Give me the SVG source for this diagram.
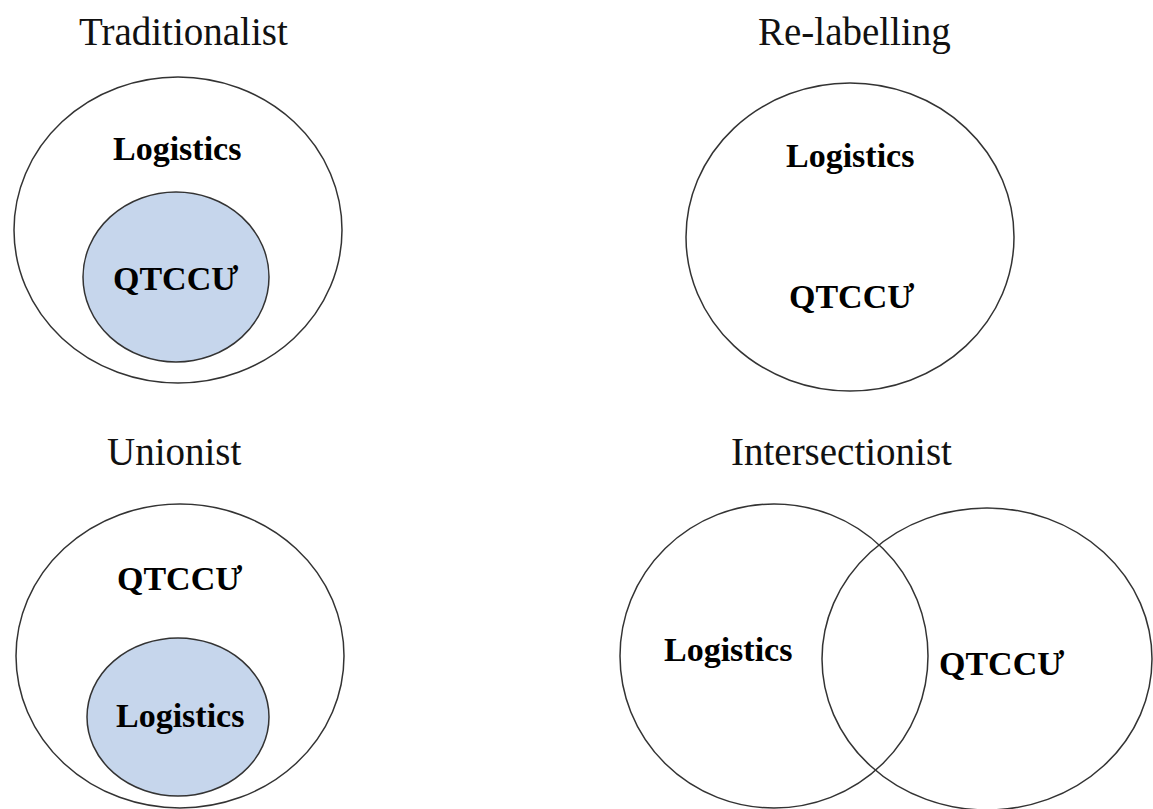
<svg xmlns="http://www.w3.org/2000/svg" width="1153" height="809" viewBox="0 0 1153 809">
<style>
.title{font-family:"Liberation Serif","Times New Roman",serif;font-size:39px;fill:#111}
.lbl{font-family:"Liberation Serif","Times New Roman",serif;font-size:34px;font-weight:bold;fill:#000}
.outer{fill:none;stroke:#333;stroke-width:1.5}
.inner{fill:#c6d6ec;stroke:#333;stroke-width:1.5}
</style>
<rect width="1153" height="809" fill="#fff"/>
<g id="traditionalist">
<text class="title" x="79" y="45">Traditionalist</text>
<ellipse class="outer" cx="178" cy="230" rx="164" ry="153"/>
<ellipse class="inner" cx="176" cy="277" rx="93" ry="85"/>
<text class="lbl" x="113" y="160">Logistics</text>
<text class="lbl" x="113" y="290">QTCCƯ</text>
</g>
<g id="relabelling">
<text class="title" x="758" y="45">Re-labelling</text>
<ellipse class="outer" cx="850" cy="237" rx="164" ry="154"/>
<text class="lbl" x="786" y="167">Logistics</text>
<text class="lbl" x="789" y="308">QTCCƯ</text>
</g>
<g id="unionist">
<text class="title" x="107" y="465">Unionist</text>
<ellipse class="outer" cx="180" cy="656" rx="164" ry="152"/>
<ellipse class="inner" cx="178" cy="717" rx="91" ry="79"/>
<text class="lbl" x="117" y="590">QTCCƯ</text>
<text class="lbl" x="116" y="727">Logistics</text>
</g>
<g id="intersectionist">
<text class="title" x="731" y="465">Intersectionist</text>
<ellipse class="outer" cx="774" cy="656" rx="154" ry="152"/>
<ellipse class="outer" cx="987" cy="659" rx="165" ry="151"/>
<text class="lbl" x="664" y="661">Logistics</text>
<text class="lbl" x="939" y="675">QTCCƯ</text>
</g>
<g id="connectors"></g>
</svg>
